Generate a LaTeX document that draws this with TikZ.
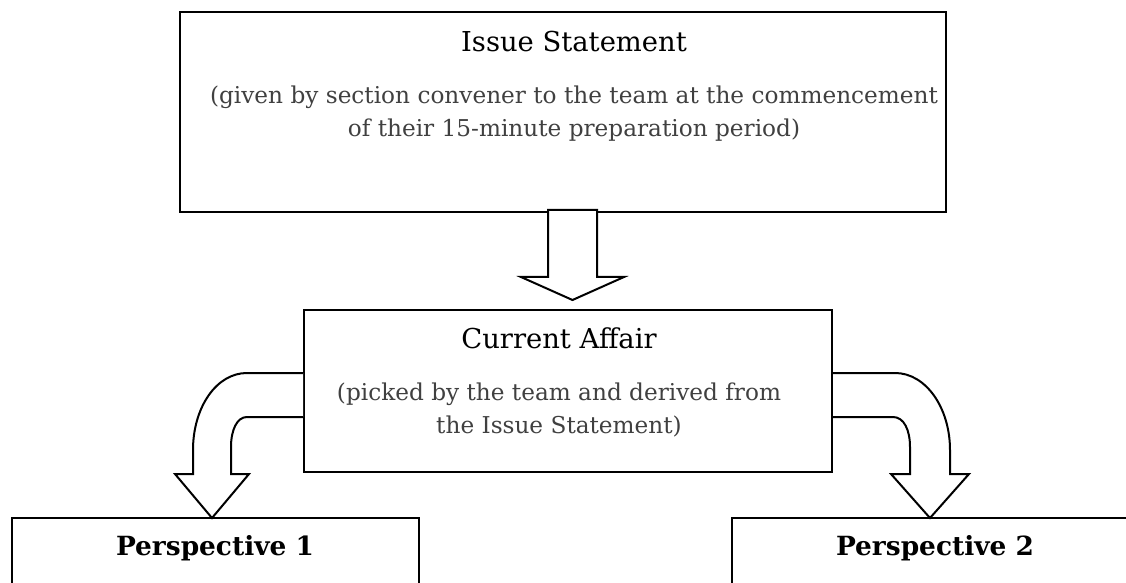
\documentclass[tikz,border=0pt]{standalone}
\usepackage{fontspec}
\setmainfont{DejaVu Serif}
\usetikzlibrary{calc,positioning}
\definecolor{notegrey}{HTML}{404040}
\tikzset{box/.style={
        draw,
        rectangle,
        inner sep=0pt,
        line width=1pt,
    },
    heading/.style={font=\fontsize{13.7}{16}\selectfont},
    note/.style={font=\fontsize{11.6}{16.5}\selectfont, text=notegrey, align=center},
    persp/.style={font=\fontsize{13.2}{15}\selectfont\bfseries},
    blockarrow/.style={draw, fill=white, line width=1pt, line join=miter},
}

\begin{document}
\begin{tikzpicture}[x=0.5pt,y=-0.5pt]
  \useasboundingbox (0,0) rectangle (1126,583);
  \node[box, minimum width=383pt, minimum height=100pt] (issue) at (563,112) {};
  \node[box, minimum width=264pt, minimum height=81pt] (current) at (568,391) {};
  \node[box, minimum width=203.5pt, minimum height=60pt] (persp1) at (215.5,578) {};
  \node[box, minimum width=204pt, minimum height=60pt] (persp2) at (936,578) {};
  \node[heading] (issuetitle) at (574,42) {Issue Statement};
  \node[note] (issuenote) at (574,113.5) {(given by section convener to the team at the commencement\\of their 15-minute preparation period)};
  \node[heading] (currenttitle) at (559,338) {Current Affair};
  \node[note] (currentnote) at (559,410) {(picked by the team and derived from\\the Issue Statement)};
  \node[persp] (persp1title) at (215,548) {Perspective 1};
  \node[persp] (persp2title) at (935,548) {Perspective 2};
  % issue -> current
  \draw[blockarrow] (548,210) -- (597,210) -- (597,277) -- (624,277)
    -- (572.5,300) -- (521,277) -- (548,277) -- cycle;
  % current -> perspective 1
  \draw[blockarrow] (current.west |- 0,373) -- (247,373)
    .. controls (216,373) and (193,408) .. (193,450) -- (193,474) -- (175,474)
    -- (212,518) -- (249,474) -- (231,474) -- (231,447)
    .. controls (231,430) and (237,417) .. (247,417) -- (current.west |- 0,417);
  % current -> perspective 2
  \draw[blockarrow] (current.east |- 0,373) -- (895,373)
    .. controls (926,373) and (950,408) .. (950,450) -- (950,474) -- (969,474)
    -- (930,518) -- (891,474) -- (910,474) -- (910,447)
    .. controls (910,430) and (904,417) .. (893,417) -- (current.east |- 0,417);
\end{tikzpicture}
\end{document}
